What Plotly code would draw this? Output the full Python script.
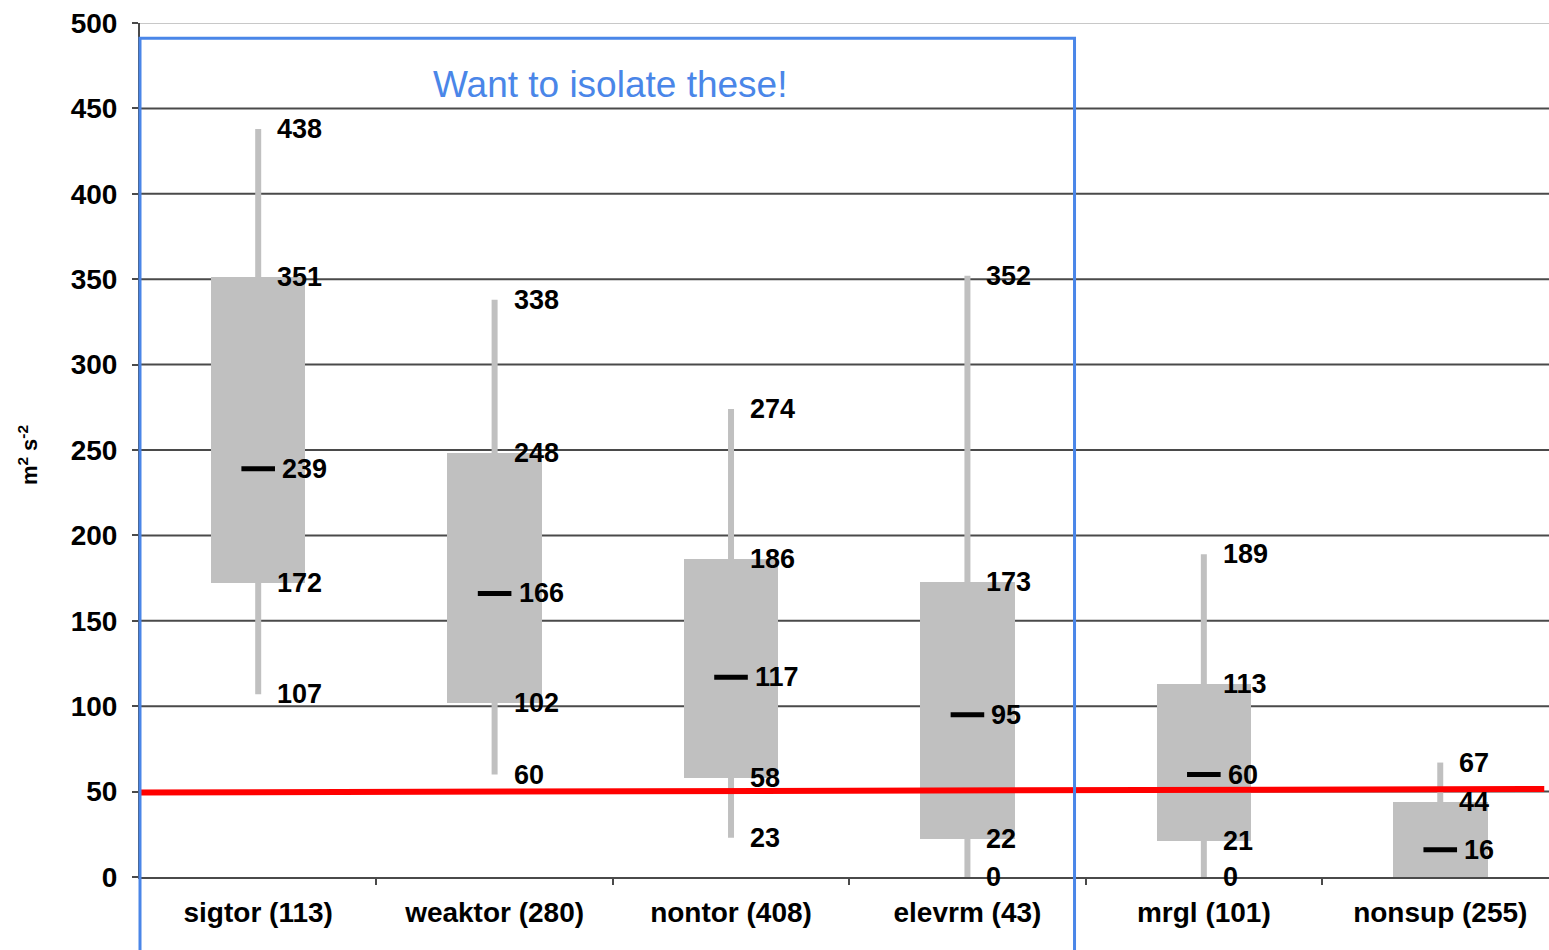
import plotly.graph_objects as go

categories = ["sigtor (113)", "weaktor (280)", "nontor (408)", "elevrm (43)", "mrgl (101)", "nonsup (255)"]
mins = [107, 60, 23, 0, 0, 0]
q1s = [172, 102, 58, 22, 21, 0]
medians = [239, 166, 117, 95, 60, 16]
q3s = [351, 248, 186, 173, 113, 44]
maxs = [438, 338, 274, 352, 189, 67]
# which lower values carry a label (nonsup has none at 0)
min_labeled = [True, True, True, True, True, False]
q1_labeled = [True, True, True, True, True, False]

y_ticks = [0, 50, 100, 150, 200, 250, 300, 350, 400, 450, 500]
threshold = 50
isolate_count = 4  # first four categories are boxed
note_text = "Want to isolate these!"

GREY = "#c0c0c0"
BLUE = "#4a86e8"
FONT = "Liberation Sans"

x_lo, x_hi = -0.5, 5.46

fig = go.Figure()

# whiskers
wx, wy = [], []
for c, lo, hi in zip(categories, mins, maxs):
    wx += [c, c, None]
    wy += [lo, hi, None]
fig.add_trace(go.Scatter(x=wx, y=wy, mode="lines", line=dict(color=GREY, width=6),
                         hoverinfo="skip", showlegend=False))

# boxes
fig.add_trace(go.Bar(x=categories, y=[b - a for a, b in zip(q1s, q3s)], base=q1s,
                     width=0.4, marker=dict(color=GREY, line=dict(width=0)),
                     showlegend=False))

# medians
fig.add_trace(go.Scatter(x=categories, y=medians, mode="markers",
                         marker=dict(symbol="line-ew", size=24, color="black",
                                     line=dict(color="black", width=5)),
                         showlegend=False))

annotations = []
label_font = dict(family=FONT, size=27, color="black", weight="bold")


def lab(c, v, shift):
    annotations.append(dict(x=c, y=v, xref="x", yref="y", text=str(v), showarrow=False,
                            xanchor="left", yanchor="middle", xshift=shift, font=label_font))


for i, c in enumerate(categories):
    lab(c, maxs[i], 17)
    lab(c, q3s[i], 17)
    lab(c, medians[i], 22)
    if q1_labeled[i]:
        lab(c, q1s[i], 17)
    if min_labeled[i]:
        lab(c, mins[i], 17)

# note text
annotations.append(dict(x=1.49, y=464, xref="x", yref="y", text=note_text, showarrow=False,
                        xanchor="center", yanchor="middle",
                        font=dict(family=FONT, size=37, color=BLUE)))

# y-axis title
annotations.append(dict(x=0, y=0.494, xref="paper", yref="paper",
                        text="m<sup>2</sup> s<sup>-2</sup>", showarrow=False,
                        textangle=-90, xanchor="center", yanchor="middle", xshift=-112,
                        font=dict(family=FONT, size=22, color="black", weight="bold")))

shapes = []
# gridlines
for t in y_ticks[1:]:
    shapes.append(dict(type="line", xref="paper", yref="y", x0=0, x1=1, y0=t, y1=t,
                       line=dict(color="#c8c8c8" if t == 500 else "#4a4a4a", width=2),
                       layer="below"))
# red threshold line
shapes.append(dict(type="line", xref="x", yref="y", x0=x_lo, x1=5.44,
                   y0=threshold - 0.5, y1=threshold + 1.5,
                   line=dict(color="#ff0000", width=6), layer="above"))
# blue box around first categories
box_right = isolate_count - 0.5 - 0.047
shapes.append(dict(type="rect", xref="paper", yref="paper",
                   x0=0, x1=(box_right - x_lo) / (x_hi - x_lo),
                   y0=-0.09, y1=491 / 500,
                   line=dict(color=BLUE, width=3), fillcolor="rgba(0,0,0,0)", layer="above"))

fig.update_layout(
    width=1549, height=950,
    margin=dict(l=140, r=0, t=23, b=73),
    plot_bgcolor="white", paper_bgcolor="white",
    bargap=0,
    shapes=shapes, annotations=annotations,
    showlegend=False,
    font=dict(family=FONT, color="black"),
)
fig.update_xaxes(type="category", categoryorder="array", categoryarray=categories,
                 range=[x_lo, x_hi], showgrid=False, showline=True, linecolor="#4a4a4a",
                 linewidth=2, ticks="outside", tickson="boundaries", ticklen=6,
                 tickcolor="#4a4a4a", tickwidth=2, ticklabelstandoff=9,
                 tickfont=dict(family=FONT, size=28, color="black", weight="bold"))
fig.update_yaxes(range=[0, 500], tickvals=y_ticks, showgrid=False, zeroline=False,
                 showline=True, linecolor="#4a4a4a", linewidth=2, ticks="outside",
                 ticklen=6, tickcolor="#4a4a4a", tickwidth=2, ticklabelstandoff=9,
                 ticklabeloverflow="allow",
                 tickfont=dict(family=FONT, size=28, color="black", weight="bold"))

fig.write_html("out.html", config={"displayModeBar": False},
               post_script="document.body.style.margin='0';document.body.style.overflow='hidden';")
